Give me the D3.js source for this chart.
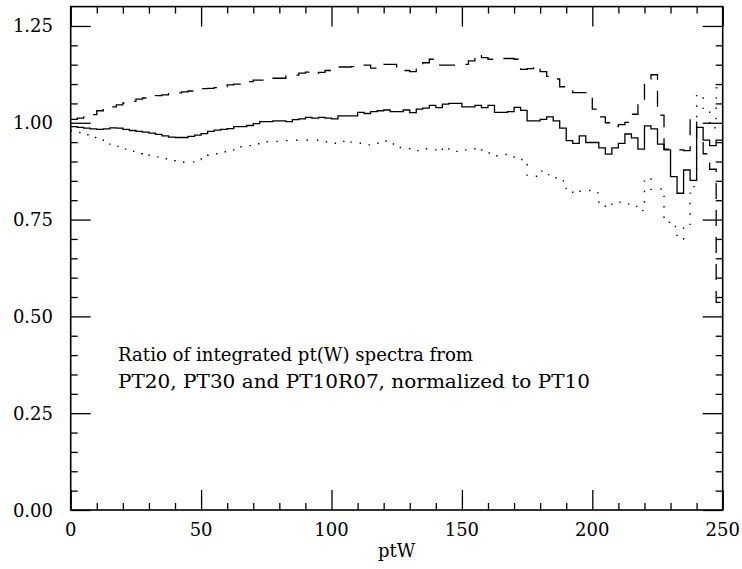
<!DOCTYPE html>
<html>
<head>
<meta charset="utf-8">
<script src="https://cdn.jsdelivr.net/npm/d3@7"></script>
<style>
  body { margin: 0; background: #fff; }
  text { font-family: "DejaVu Serif", serif; fill: #000; }
</style>
</head>
<body>
<div id="chart"></div>
<script>
// bins of 2.5 in ptW, 0 - 250
var binWidth = 2.5;
var binStarts = d3.range(0, 250, binWidth);

// solid histogram
var ratioSolid = [
  0.990, 0.988, 0.986, 0.984, 0.983, 0.984, 0.987, 0.986, 0.983, 0.980,
  0.978, 0.976, 0.973, 0.970, 0.966, 0.963, 0.962, 0.962, 0.965, 0.968,
  0.972, 0.978, 0.981, 0.983, 0.985, 0.990, 0.990, 0.993, 0.998, 1.003,
  1.003, 1.005, 1.005, 1.003, 1.008, 1.010, 1.014, 1.012, 1.014, 1.012,
  1.010, 1.018, 1.018, 1.018, 1.027, 1.024, 1.029, 1.031, 1.033, 1.029,
  1.029, 1.033, 1.026, 1.035, 1.038, 1.045, 1.039, 1.048, 1.050, 1.050,
  1.041, 1.041, 1.045, 1.039, 1.045, 1.027, 1.027, 1.029, 1.040, 1.032,
  1.005, 1.005, 1.009, 1.015, 1.005, 0.986, 0.954, 0.947, 0.966, 0.949,
  0.949, 0.935, 0.919, 0.935, 0.947, 0.971, 0.961, 0.932, 0.992, 0.984,
  0.945, 0.930, 0.861, 0.818, 0.878, 0.851, 0.988, 0.955, 0.941, 0.955
];

// dashed histogram
var ratioDashed = [
  1.009, 1.012, 1.018, 1.021, 1.031, 1.036, 1.041, 1.046, 1.051, 1.055,
  1.061, 1.064, 1.067, 1.070, 1.072, 1.075, 1.077, 1.080, 1.082, 1.085,
  1.088, 1.089, 1.091, 1.093, 1.098, 1.100, 1.103, 1.106, 1.110, 1.110,
  1.113, 1.115, 1.115, 1.121, 1.123, 1.128, 1.131, 1.126, 1.130, 1.135,
  1.137, 1.144, 1.144, 1.145, 1.146, 1.149, 1.141, 1.147, 1.151, 1.151,
  1.144, 1.135, 1.132, 1.149, 1.155, 1.164, 1.149, 1.149, 1.149, 1.149,
  1.151, 1.160, 1.177, 1.168, 1.164, 1.166, 1.166, 1.166, 1.164, 1.138,
  1.140, 1.147, 1.132, 1.120, 1.113, 1.093, 1.085, 1.078, 1.078, 1.065,
  1.035, 1.015, 1.000, 0.990, 0.995, 1.001, 1.022, 1.046, 1.113, 1.124,
  1.020, 0.932, 0.932, 0.930, 0.928, 1.012, 0.960, 0.920, 0.880, 0.536
];

// dotted histogram
var ratioDotted = [
  0.980, 0.975, 0.969, 0.962, 0.955, 0.947, 0.943, 0.939, 0.932, 0.926,
  0.920, 0.914, 0.916, 0.912, 0.907, 0.902, 0.898, 0.898, 0.899, 0.905,
  0.912, 0.916, 0.920, 0.925, 0.930, 0.934, 0.938, 0.941, 0.946, 0.950,
  0.951, 0.952, 0.954, 0.954, 0.955, 0.955, 0.955, 0.955, 0.954, 0.951,
  0.947, 0.952, 0.955, 0.950, 0.947, 0.943, 0.945, 0.947, 0.953, 0.945,
  0.936, 0.933, 0.931, 0.928, 0.933, 0.930, 0.926, 0.937, 0.930, 0.926,
  0.930, 0.933, 0.936, 0.930, 0.922, 0.915, 0.918, 0.912, 0.908, 0.905,
  0.862, 0.862, 0.875, 0.866, 0.858, 0.850, 0.830, 0.818, 0.823, 0.825,
  0.819, 0.795, 0.782, 0.790, 0.795, 0.790, 0.784, 0.773, 0.857, 0.828,
  0.829, 0.743, 0.732, 0.700, 0.730, 0.835, 1.072, 1.035, 0.987, 1.090
];

var xMajor = [0, 50, 100, 150, 200, 250];
var xMinor = [10, 20, 30, 40, 60, 70, 80, 90, 110, 120, 130, 140, 160, 170, 180, 190, 210, 220, 230, 240];
var yMajor = [0, 0.25, 0.5, 0.75, 1.0, 1.25];
var yMinor = [0.05, 0.10, 0.15, 0.20, 0.30, 0.35, 0.40, 0.45, 0.55, 0.60, 0.65, 0.70,
  0.80, 0.85, 0.90, 0.95, 1.05, 1.10, 1.15, 1.20];
var noteLines = ["Ratio of integrated pt(W) spectra from",
  "PT20, PT30 and PT10R07, normalized to PT10"];

var width = 742;
var height = 569;
var plotLeft = 70.7;
var plotRight = 722.7;
var plotTop = 6.6;
var plotBottom = 510;
var majorLen = 20;
var minorLen = 7;

var svg = d3.select("#chart")
  .append("svg")
  .attr("width", width)
  .attr("height", height);

var xScale = d3.scaleLinear().domain([0, 250]).range([plotLeft, plotRight]);
var yScale = d3.scaleLinear().domain([0, 1.3]).range([plotBottom, plotTop]);

// tick marks on all four sides, pointing inwards
function tickAxis(axisFn, scale, values, len, tx, ty) {
  var g = svg.append("g")
    .attr("transform", "translate(" + tx + "," + ty + ")")
    .call(axisFn(scale).tickValues(values).tickSize(-len).tickFormat(""));
  g.select(".domain").remove();
  g.selectAll("line").attr("stroke", "#000").attr("stroke-width", 1.3);
  return g;
}
tickAxis(d3.axisBottom, xScale, xMajor, majorLen, 0, plotBottom);
tickAxis(d3.axisBottom, xScale, xMinor, minorLen, 0, plotBottom);
tickAxis(d3.axisTop, xScale, xMajor, majorLen, 0, plotTop);
tickAxis(d3.axisTop, xScale, xMinor, minorLen, 0, plotTop);
tickAxis(d3.axisLeft, yScale, yMajor, majorLen, plotLeft, 0);
tickAxis(d3.axisLeft, yScale, yMinor, minorLen, plotLeft, 0);
tickAxis(d3.axisRight, yScale, yMajor, majorLen, plotRight, 0);
tickAxis(d3.axisRight, yScale, yMinor, minorLen, plotRight, 0);

// frame
svg.append("rect")
  .attr("x", plotLeft)
  .attr("y", plotTop)
  .attr("width", plotRight - plotLeft)
  .attr("height", plotBottom - plotTop)
  .attr("fill", "none")
  .attr("stroke", "#000")
  .attr("stroke-width", 1.6);

// tick labels
svg.selectAll(".xLabel")
  .data(xMajor)
  .enter()
  .append("text")
  .attr("class", "xLabel")
  .attr("x", function(d) { return xScale(d); })
  .attr("y", 536)
  .attr("text-anchor", "middle")
  .attr("font-size", 18)
  .text(function(d) { return d; });

svg.selectAll(".yLabel")
  .data(yMajor)
  .enter()
  .append("text")
  .attr("class", "yLabel")
  .attr("x", 53)
  .attr("y", function(d) { return yScale(d) + 6.5; })
  .attr("text-anchor", "end")
  .attr("font-size", 18)
  .text(function(d) { return d3.format(".2f")(d); });

svg.append("text")
  .attr("x", (plotLeft + plotRight) / 2)
  .attr("y", 557)
  .attr("text-anchor", "middle")
  .attr("font-size", 18)
  .text("ptW");

// histograms as steps
var step = d3.line()
  .x(function(d) { return xScale(d[0]); })
  .y(function(d) { return yScale(d[1]); })
  .curve(d3.curveStepAfter);

function histPoints(values) {
  var pts = binStarts.map(function(x, i) { return [x, values[i]]; });
  pts.push([250, values[values.length - 1]]);
  return pts;
}

svg.append("path")
  .attr("d", step(histPoints(ratioDashed)))
  .attr("fill", "none")
  .attr("stroke", "#000")
  .attr("stroke-width", 1.3)
  .attr("stroke-dasharray", "16,11");

svg.append("path")
  .attr("d", step(histPoints(ratioSolid)))
  .attr("fill", "none")
  .attr("stroke", "#000")
  .attr("stroke-width", 1.3);

svg.append("path")
  .attr("d", step(histPoints(ratioDotted)))
  .attr("fill", "none")
  .attr("stroke", "#000")
  .attr("stroke-width", 1.4)
  .attr("stroke-dasharray", "1.4,9");

// note text
var noteLens = [355, 472];
noteLines.forEach(function(line, i) {
  svg.append("text")
    .attr("x", 118)
    .attr("y", 361 + i * 27)
    .attr("font-size", 18)
    .attr("textLength", noteLens[i])
    .attr("lengthAdjust", "spacingAndGlyphs")
    .text(line);
});
</script>
</body>
</html>
